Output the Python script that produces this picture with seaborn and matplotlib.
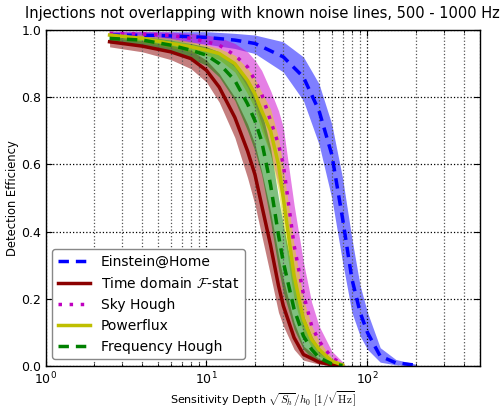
import matplotlib
matplotlib.use("Agg")
import matplotlib.pyplot as plt
import seaborn as sns
import numpy as np

# ---- data ----
eah_x = [2.5, 5, 10, 15, 20, 30, 40, 50, 60, 70, 80, 90, 100, 120, 150, 200]
eah_y = [0.985, 0.984, 0.978, 0.970, 0.960, 0.920, 0.860, 0.760, 0.630, 0.440, 0.260, 0.160, 0.100, 0.030, 0.010, 0.003]
eah_hi = [0.995, 0.995, 0.995, 0.990, 0.985, 0.965, 0.920, 0.840, 0.720, 0.560, 0.380, 0.240, 0.160, 0.055, 0.020, 0.006]
eah_lo = [0.975, 0.972, 0.958, 0.945, 0.930, 0.875, 0.790, 0.660, 0.500, 0.310, 0.160, 0.090, 0.050, 0.012, 0.004, 0.001]

fx_x = [2.5, 4, 6, 8, 10, 12, 15, 18, 20, 22, 25, 28, 30, 35, 40, 50, 60, 70]
fx_y = [0.965, 0.952, 0.935, 0.915, 0.880, 0.830, 0.740, 0.640, 0.570, 0.480, 0.360, 0.240, 0.180, 0.085, 0.035, 0.012, 0.004, 0.001]
fx_hi = [0.978, 0.968, 0.955, 0.940, 0.910, 0.870, 0.800, 0.720, 0.660, 0.580, 0.460, 0.330, 0.260, 0.130, 0.060, 0.022, 0.008, 0.002]
fx_lo = [0.950, 0.935, 0.912, 0.885, 0.845, 0.785, 0.680, 0.560, 0.480, 0.390, 0.270, 0.160, 0.120, 0.050, 0.018, 0.006, 0.002, 0.0005]

cx = [2.5, 4, 6, 8, 10, 12, 15, 18, 20, 22, 25, 28, 30, 35, 40, 45, 50, 60, 70]

sh_y = [0.990, 0.988, 0.984, 0.975, 0.965, 0.955, 0.925, 0.890, 0.850, 0.810, 0.730, 0.660, 0.600, 0.360, 0.215, 0.120, 0.075, 0.025, 0.007]
sh_hi = [0.997, 0.996, 0.994, 0.990, 0.985, 0.978, 0.960, 0.935, 0.910, 0.880, 0.820, 0.760, 0.710, 0.480, 0.310, 0.190, 0.120, 0.045, 0.013]
sh_lo = [0.983, 0.978, 0.972, 0.958, 0.945, 0.930, 0.890, 0.830, 0.780, 0.720, 0.630, 0.540, 0.480, 0.260, 0.140, 0.070, 0.040, 0.012, 0.003]

pf_y = [0.985, 0.975, 0.960, 0.950, 0.940, 0.930, 0.900, 0.850, 0.810, 0.760, 0.700, 0.600, 0.500, 0.270, 0.140, 0.080, 0.050, 0.015, 0.004]
pf_hi = [0.990, 0.985, 0.975, 0.965, 0.955, 0.945, 0.925, 0.885, 0.855, 0.815, 0.765, 0.680, 0.590, 0.360, 0.200, 0.120, 0.075, 0.025, 0.007]
pf_lo = [0.978, 0.965, 0.948, 0.935, 0.925, 0.912, 0.875, 0.810, 0.765, 0.700, 0.630, 0.520, 0.410, 0.200, 0.100, 0.055, 0.030, 0.009, 0.002]

fh_y = [0.975, 0.970, 0.955, 0.940, 0.925, 0.900, 0.850, 0.780, 0.730, 0.670, 0.540, 0.390, 0.310, 0.170, 0.090, 0.050, 0.025, 0.007, 0.002]
fh_hi = [0.985, 0.980, 0.970, 0.960, 0.950, 0.935, 0.900, 0.850, 0.810, 0.760, 0.650, 0.500, 0.420, 0.260, 0.150, 0.090, 0.050, 0.015, 0.004]
fh_lo = [0.962, 0.955, 0.935, 0.915, 0.895, 0.860, 0.790, 0.700, 0.640, 0.570, 0.430, 0.290, 0.220, 0.110, 0.050, 0.025, 0.012, 0.003, 0.001]

labels = ["Einstein@Home", r"Time domain $\mathcal{F}$-stat", "Sky Hough", "Powerflux", "Frequency Hough"]
title = "Injections not overlapping with known noise lines, 500 - 1000 Hz"

# ---- style ----
plt.rcParams['font.family'] = ['DejaVu Sans']
plt.rcParams['mathtext.fontset'] = 'cm'
plt.rcParams['xtick.direction'] = 'in'
plt.rcParams['ytick.direction'] = 'in'
plt.rcParams['xtick.top'] = True
plt.rcParams['ytick.right'] = True

fig = plt.figure(figsize=(5.0, 4.11), dpi=100)
ax = fig.add_axes([0.091, 0.109, 0.869, 0.818])

series = [
    (eah_x, eah_y, eah_lo, eah_hi, 'b', '#0000ff', (0, (3, 2)), 0.5),
    (fx_x, fx_y, fx_lo, fx_hi, '#8b0000', '#8b0000', '-', 0.5),
    (cx, sh_y, sh_lo, sh_hi, 'm', '#cc00cc', (0, (1, 2.2)), 0.5),
    (cx, pf_y, pf_lo, pf_hi, '#bfbf00', '#dddd00', '-', 0.5),
    (cx, fh_y, fh_lo, fh_hi, 'g', '#008000', (0, (3, 2)), 0.5),
]

for (x, y, lo, hi, lc, fc, ls, a) in series:
    ax.fill_between(x, lo, hi, color=fc, alpha=a, linewidth=0)

for (x, y, lo, hi, lc, fc, ls, a), lab in zip(series, labels):
    sns.lineplot(x=x, y=y, ax=ax, color=lc, linestyle=ls, linewidth=2.5,
                 label=lab, estimator=None, sort=False)

ax.set_xscale('log')
ax.set_xlim(1, 500)
ax.set_ylim(0, 1)
ax.set_yticks([0.0, 0.2, 0.4, 0.6, 0.8, 1.0])
ax.set_yticklabels(["0.0", "0.2", "0.4", "0.6", "0.8", "1.0"])
ax.grid(True, which='major', axis='both', color='k', linestyle=':', linewidth=0.9)
ax.grid(True, which='minor', axis='x', color='#555555', linestyle=':', linewidth=0.9)
ax.tick_params(which='major', length=4, labelsize=9, pad=3)
ax.tick_params(which='minor', length=2)
for s in ax.spines.values():
    s.set_linewidth(1.0)

ax.set_title(title, fontsize=10.5, pad=9)
ax.set_ylabel("Detection Efficiency", fontsize=8.3, labelpad=2)
ax.set_xlabel(r"Sensitivity Depth $\sqrt{S_h}/h_0$ $[1/\sqrt{\rm Hz}]$", fontsize=8, labelpad=2)

leg = ax.legend(loc='lower left', fontsize=10, handlelength=2.3, fancybox=True,
                framealpha=1.0, borderaxespad=0.5)
leg.get_frame().set_edgecolor('#888888')

fig.savefig("out.png", dpi=100)
